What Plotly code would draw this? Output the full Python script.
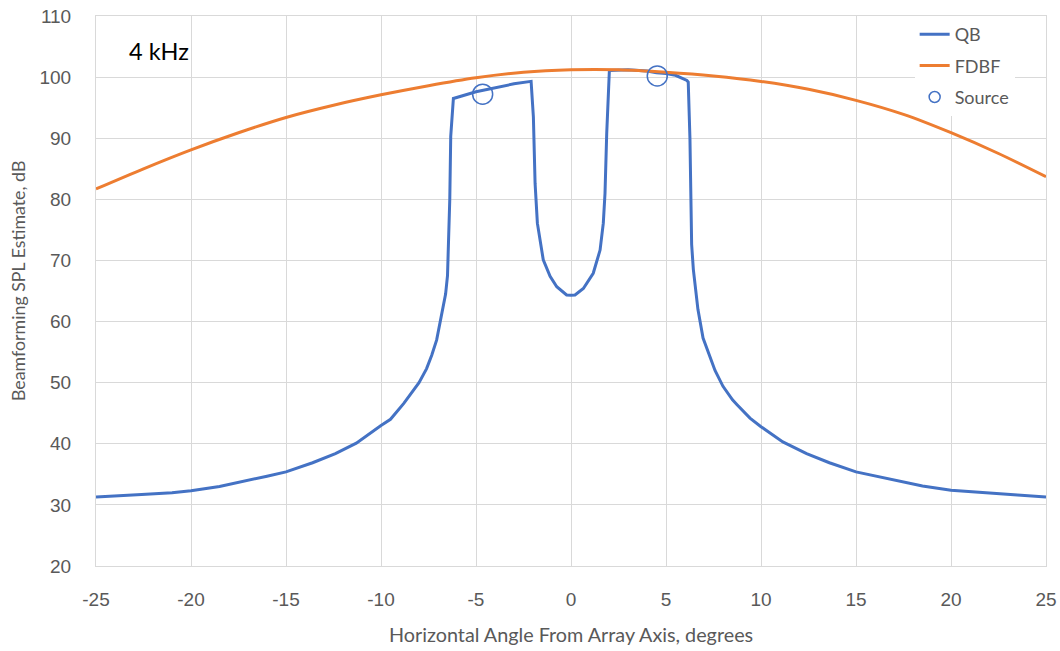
import plotly.graph_objects as go

# ---- data ----
qb_angle = [-25, -23.5, -22.6, -21, -20, -18.5, -17.4, -16, -15, -13.6, -12.4, -11.3,
            -10, -9.5, -8.8, -8.0, -7.6, -7.33, -7.07, -6.8, -6.6, -6.5, -6.43, -6.38,
            -6.33, -6.25, -6.19, -5.0, -4.0, -3.0, -2.1, -1.98, -1.89, -1.77, -1.46,
            -1.1, -0.75, -0.23, 0, 0.21, 0.65, 1.17, 1.53, 1.7, 1.79, 1.88, 2.02, 3.0,
            4.0, 4.5, 5.0, 5.5, 6.1, 6.17, 6.26, 6.35, 6.44, 6.68, 6.95, 7.3, 7.58, 8.0,
            8.5, 8.74, 9.42, 10, 11.15, 12.4, 13.6, 15, 16.8, 18.5, 20, 22, 23.5, 25]
qb_spl = [31.3, 31.5, 31.7, 32.0, 32.3, 33.0, 33.8, 34.7, 35.4, 36.9, 38.4, 40.1,
          43.0, 44.0, 46.6, 50.0, 52.3, 54.5, 57.0, 61.1, 64.5, 67.5, 73.0, 80.0,
          90.3, 94.0, 96.5, 97.6, 98.3, 98.9, 99.3, 93.5, 82.6, 76.1, 70.1,
          67.4, 65.7, 64.35, 64.3, 64.35, 65.4, 67.9, 71.7, 76.1, 81.0, 90.8, 101.1, 101.2,
          101.0, 100.7, 100.6, 100.3, 99.45, 99.2, 90.0, 72.6, 68.5, 62.0, 57.3, 54.5, 52.0, 49.4,
          47.2, 46.4, 44.2, 42.8, 40.3, 38.4, 36.9, 35.4, 34.2, 33.1, 32.4, 31.9, 31.6, 31.3]

fdbf_angle = [-25, -22.5, -20, -17.5, -15, -12.5, -10, -7.5, -5, -2.5, 0,
              2.5, 5, 7.5, 10, 12.5, 15, 17.5, 20, 22.5, 25]
fdbf_spl = [81.7, 85.0, 88.1, 90.9, 93.4, 95.4, 97.1, 98.6, 99.9, 100.8, 101.2,
            101.2, 100.8, 100.2, 99.3, 98.0, 96.2, 93.9, 90.9, 87.5, 83.7]

source_angle = [-4.65, 4.54]
source_spl = [97.2, 100.2]

x_tickvals = [-25, -20, -15, -10, -5, 0, 5, 10, 15, 20, 25]
x_ticktext = ["-25", "-20", "-15", "-10", "-5", "0", "5", "10", "15", "20", "25"]
y_tickvals = [20, 30, 40, 50, 60, 70, 80, 90, 100, 110]

annotation_text = "4 kHz"
x_title = "Horizontal Angle From Array Axis, degrees"
y_title = "Beamforming SPL Estimate, dB"

BLUE = "#4472C4"
ORANGE = "#ED7D31"
GRID = "#D9D9D9"
TXT = "#595959"
TFONT = "Lato, Open Sans, sans-serif"
NFONT = "Liberation Sans, Arial, sans-serif"

fig = go.Figure()
fig.add_trace(go.Scatter(x=qb_angle, y=qb_spl, mode="lines", name="QB",
                         line=dict(color=BLUE, width=3), legendgroup="a"))
fig.add_trace(go.Scatter(x=fdbf_angle, y=fdbf_spl, mode="lines", name="FDBF",
                         line=dict(color=ORANGE, width=3, shape="spline", smoothing=0.8),
                         legendgroup="b"))
fig.add_trace(go.Scatter(x=source_angle, y=source_spl, mode="markers", name="Source",
                         marker=dict(symbol="circle-open", size=20, color=BLUE,
                                     line=dict(width=1.5, color=BLUE)),
                         showlegend=False))
# legend entry for Source with small symbol as in reference
fig.add_trace(go.Scatter(x=[None], y=[None], mode="markers", name="Source",
                         marker=dict(symbol="circle-open", size=11, color=BLUE,
                                     line=dict(width=1.5, color=BLUE)),
                         legendgroup="c"))

fig.add_annotation(x=0.033, y=(566 - 51) / 550, xref="paper", yref="paper", text=annotation_text,
                   showarrow=False, xanchor="left", yanchor="middle",
                   font=dict(family=TFONT, size=23.5, color="#000000"))
fig.add_annotation(x=0.5, y=(566 - 634) / 550, xref="paper", yref="paper", text=x_title,
                   showarrow=False, xanchor="center", yanchor="middle",
                   font=dict(family=TFONT, size=19.8, color=TXT))
fig.add_annotation(x=(18 - 96) / 950, y=(566 - 281) / 550, xref="paper", yref="paper",
                   text=y_title, showarrow=False, xanchor="center", yanchor="middle",
                   textangle=-90, font=dict(family=TFONT, size=17.8, color=TXT))

fig.update_layout(
    width=1060, height=651,
    margin=dict(l=96, r=14, t=16, b=85, autoexpand=False),
    paper_bgcolor="white", plot_bgcolor="white",
    font=dict(family=TFONT, color=TXT, size=16),
    legend=dict(x=0.967, y=1.0, xanchor="right", yanchor="top",
                bgcolor="white", font=dict(family=TFONT, size=18, color=TXT),
                tracegroupgap=5, itemwidth=30),
    showlegend=True,
)
fig.update_xaxes(range=[-25, 25], tickvals=x_tickvals, ticktext=x_ticktext,
                 showgrid=True, gridcolor=GRID, automargin=False,
                 gridwidth=1, zeroline=False, showline=True, linecolor=GRID, mirror=True,
                 ticks="", ticklabelstandoff=16,
                 tickfont=dict(family=NFONT, size=19, color=TXT))
fig.update_yaxes(range=[20, 110], tickvals=y_tickvals, showgrid=True, gridcolor=GRID,
                 gridwidth=1, automargin=False,
                 zeroline=False, showline=True, linecolor=GRID, mirror=True,
                 ticks="", ticklabelstandoff=20,
                 tickfont=dict(family=NFONT, size=19, color=TXT))

fig.write_html("out.html", config={"displayModeBar": False},
               post_script="document.body.style.margin='0px';")
